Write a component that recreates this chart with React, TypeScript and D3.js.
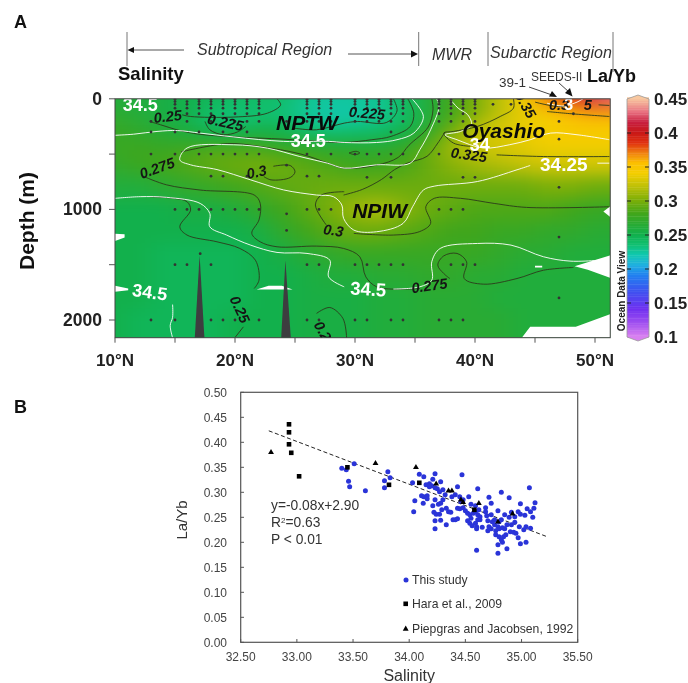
import React from "react";
import * as d3 from "d3";

// ---------- Panel A data ----------
const fieldLats = [10,12,14,16,18,20,22,24,26,28,30,32,34,36,38,40,42,44,46,48,50,52];
const fieldDepths = [0,100,200,300,400,500,600,800,1000,1200,1400,1600,1800,2000,2160];
const fieldValues = [
[.26,.26,.255,.25,.245,.24,.24,.24,.228,.225,.225,.228,.24,.26,.28,.30,.32,.34,.37,.39,.42,.43],
[.265,.26,.255,.25,.24,.235,.235,.232,.225,.222,.222,.225,.24,.26,.28,.30,.32,.335,.35,.36,.37,.37],
[.27,.265,.255,.25,.235,.232,.24,.24,.228,.222,.225,.23,.24,.26,.285,.31,.325,.335,.34,.35,.35,.35],
[.275,.27,.265,.26,.25,.25,.255,.25,.24,.235,.238,.24,.25,.27,.30,.325,.33,.335,.34,.345,.345,.345],
[.275,.275,.27,.27,.27,.27,.27,.265,.262,.258,.258,.258,.265,.285,.31,.325,.33,.335,.34,.34,.34,.34],
[.275,.28,.28,.285,.29,.29,.29,.285,.28,.275,.272,.272,.278,.295,.31,.32,.325,.33,.335,.335,.335,.335],
[.27,.275,.28,.285,.29,.295,.298,.295,.29,.285,.28,.28,.283,.293,.303,.31,.315,.32,.325,.325,.325,.325],
[.26,.26,.265,.27,.275,.28,.285,.29,.293,.295,.295,.295,.295,.295,.295,.295,.295,.295,.30,.30,.295,.295],
[.25,.25,.25,.255,.255,.26,.27,.28,.29,.30,.31,.315,.305,.295,.29,.285,.285,.285,.285,.28,.275,.275],
[.25,.25,.25,.25,.25,.25,.255,.27,.28,.29,.295,.295,.29,.285,.28,.28,.275,.275,.27,.27,.265,.265],
[.25,.25,.245,.245,.245,.245,.25,.255,.265,.27,.275,.275,.275,.275,.275,.275,.27,.265,.265,.26,.26,.26],
[.25,.25,.245,.245,.245,.245,.25,.25,.255,.26,.26,.265,.265,.27,.27,.265,.265,.26,.26,.26,.26,.26],
[.25,.25,.245,.245,.245,.245,.25,.25,.255,.255,.255,.26,.26,.265,.265,.265,.26,.26,.26,.26,.26,.26],
[.25,.245,.245,.245,.245,.25,.25,.25,.255,.255,.255,.26,.26,.265,.265,.265,.265,.26,.26,.26,.26,.26],
[.25,.245,.245,.245,.245,.25,.25,.25,.255,.255,.255,.26,.26,.265,.265,.265,.265,.26,.26,.26,.26,.26],
];
const colorStops: [number,string][] = [
[.10,"#d880f0"],[.12,"#a050f0"],[.14,"#7030f0"],[.165,"#4050f0"],[.19,"#2080f0"],[.205,"#20b0e0"],[.22,"#10c8b0"],[.235,"#10c070"],[.25,"#12b04c"],[.28,"#40a61c"],[.30,"#7aae08"],[.32,"#bcc008"],[.34,"#f4ce00"],[.355,"#fcc000"],[.37,"#f08010"],[.385,"#e03010"],[.40,"#c81818"],[.415,"#c82040"],[.43,"#e87080"],[.45,"#f8c8a0"],
];

type P = [number, number];
const whiteContours: P[][] = [
[[10,330],[11.55,320],[13.5,295],[15.2,287],[17.1,310],[19.9,345],[24.05,385],[27.8,385],[29.1,395],[31.8,395],[33.5,370],[34.9,310],[35.7,160],[34.75,0]],
[[36.8,0],[37,70],[36.3,280],[35.4,460],[34.6,582],[31.8,597],[29.1,627],[27.7,582],[25.4,522],[22.7,446],[19.9,416],[16,445],[15.4,552],[16.3,597],[18.5,640],[21.3,733],[24.05,824],[26.8,870],[28.2,885],[28.9,960],[29.05,1081],[29.9,1187],[31.8,1202],[34,1127],[34.8,976],[35.7,825],[36.6,790],[40.2,748],[43.5,642],[44.6,603]],
[[50.2,582],[51.2,582]],
[[10,900],[12.1,885],[14.3,891],[17.1,946],[17.9,1036],[17.9,1157],[19.3,1232],[21.3,1323],[23.5,1389],[26,1398],[27.9,1459],[27.8,1610],[29.1,1700]],
[[33.2,1720],[35.4,1700],[36.4,1640],[36.4,1473],[37.1,1353],[40.2,1308],[43,1323],[45.7,1428],[48,1468],[51.2,1453]],
[[14.8,1860],[14.8,1975],[14.6,2050],[14.8,2160]],
[[37.9,0],[38.6,85],[39.4,145],[39.7,235],[38.8,295],[37.5,325],[38.5,370],[40.7,445],[42.9,415],[44.6,370],[46.3,310],[48.5,325],[51.2,370]],
[[46,40],[47.4,65],[48.5,30],[49,0]],
];
const darkContours: P[][] = [
[[12.9,205],[13.8,235],[15.4,287],[17,320],[20,345],[24,365],[27,385],[29.1,395],[31.4,370],[33,340],[34.6,250],[34.9,130],[34.4,0]],
[[15.6,145],[16.3,160],[19.9,165],[22.7,130],[23.8,55],[23.5,0]],
[[17.5,205],[17.9,280],[19.05,325],[20.2,300],[20.9,250]],
[[24.9,265],[26.8,280],[29.1,220],[30.2,205],[32.6,215],[33.5,110],[33.2,0]],
[[12.4,703],[14.3,778],[17.1,825],[21.6,870],[22.1,945],[22,1095],[21.4,1217],[22.1,1293],[23.5,1338],[26.8,1332],[29.05,1353],[30.4,1428],[30.9,1610],[31.8,1700],[33.2,1721],[35.4,1715]],
[[37.9,1625],[37.4,1580],[36.9,1504],[37.4,1420],[38.5,1398],[39.3,1474],[39.1,1625],[40.7,1676],[43.5,1625],[45.7,1550],[48.2,1525]],
[[29.1,840],[27.2,870],[26.7,960],[27.6,1140]],
[[29.9,1217],[33.2,1232],[35.4,1200],[36.3,1127],[35.9,976],[36.6,900],[38.8,900],[41.6,946],[44.3,982],[51.2,976]],
[[12.9,885],[14.9,900],[16,930],[16.3,1006],[15.4,1157],[16,1232],[18.5,1293],[20.4,1353],[21.7,1459],[22,1640],[21.6,1715]],
[[20.7,2062],[20,2158]],
[[26.8,1940],[27.9,1887],[29,1987],[29.3,2160]],
[[22.4,703],[23,733],[24.6,712],[25,660],[24.6,603],[23.2,610]],
[[15.5,480],[19.4,405],[22,430],[25.5,500],[27.7,580],[29,627],[31.8,600],[33.6,530],[34.5,420],[36.1,255],[36.5,100],[36.4,0]],
[[29.05,870],[30.6,820],[32.2,730],[33.3,640],[34.4,580],[36,520],[36.9,400],[37.5,300]],
[[29.5,490],[30.1,475],[30.4,490],[30,505],[29.5,490]],
[[41.8,507],[45.7,522],[51.2,522]],
[[43.2,0],[43.2,85],[42.1,160],[40.2,250],[38.2,295],[37.4,310],[38.2,400],[39.6,430]],
[[46,115],[48,135],[51.2,160]],
[[45,30],[46.5,65],[47.5,70]],
[[50.3,55],[51.2,60]],
];
const gaps: P[][] = [
[[43.9,2160],[44.6,2060],[48.4,2060],[51.3,1945],[51.3,2160]],
[[48.3,1515],[51.3,1415],[51.3,1620],[49.4,1545]],
[[50.7,1020],[51.3,970],[51.3,1070]],
[[10,1220],[10.8,1225],[10.8,1255],[10,1285]],
[[10,1690],[11.1,1715],[11.1,1730],[10,1745]],
[[21.8,1725],[22.8,1690],[23.9,1690],[24.8,1725]],
[[45,1510],[45.6,1510],[45.6,1525],[45,1525]],
];
const seamountA: P[] = [[16.65,2160],[17.05,1413],[17.45,2160]];
const seamountB: P[] = [[23.85,2160],[24.2,1460],[24.65,2160]];

const stationRows: [number, number[]][] = [
[5,[15,17,18,19,20,21,22,26,27,28,30,31,32,33,34,37,38,39,40]],
[25,[15,16,17,18,19,20,21,22,26,27,28,30,31,32,33,34,37,38,39,40]],
[50,[15,16,17,18,19,20,21,22,26,27,28,30,31,32,33,34,37,38,39,40,41.5,43]],
[85,[15,16,17,18,19,20,21,22,26,27,28,30,31,32,33,34,37,38,39,40]],
[135,[16,17,18,19,20,21,22,26,27,28,33,34,37,38,39,40,48.2]],
[205,[13,16,18,20,21,22,24.3,26,27,28,30,31,32,33,34,37,38,39,40,47]],
[300,[13,15,17,19,21,33]],
[365,[47]],
[500,[13,15,17,18,19,20,21,22,26,28,30,31,32,33,34,37]],
[600,[24.3,47]],
[700,[18,19,21,26,27]],
[710,[31,33,39,40]],
[800,[47]],
[1000,[15,16,17,18,19,20,21,22,26,27,28,37,38,39]],
[1040,[24.3]],
[1190,[24.3]],
[1250,[47]],
[1400,[17.1]],
[1500,[15,16,18,26,27,30,31,32,33,34,38,39,40]],
[1800,[47]],
[2000,[13,15,18,19,20,22,26,27,30,31,33,34,37,38,39]],
];

const regionLabels: [string, number, number][] = [
["Subtropical Region", 197, 55],["MWR", 432, 60],["Subarctic Region", 490, 58],
];
const contourLabels: [string, number, number, number][] = [
["0.25",14.4,160,-6],["0.225",19.2,214,12],["0.225",31,130,5],["0.275",13.5,627,-20],["0.3",21.8,663,-12],
["0.3",28.2,1190,8],["0.25",20.4,1905,65],["0.2",27.3,2100,60],["0.325",39.5,507,8],["0.35",44.2,55,60],["0.3",47,60,0],["5",49.4,60,0],["0.275",36.2,1690,-8],
];
const salinityLabels: [string, number, number, number, number][] = [
["34.5",12.1,60,0,18],["34.5",26.1,385,0,18],["34",40.4,415,0,18],["34.25",47.4,591,0,19],["34.5",31.1,1720,3,18.5],["34.5",12.9,1750,8,18],["3",47.8,50,0,16],
];
const waterMasses: [string, number, number][] = [["NPTW",26,211],["Oyashio",42.4,286],["NPIW",32.05,1006]];

const latTicks = [10,15,20,25,30,35,40,45,50];
const latLabels = [10,20,30,40,50];
const depthTicks = [0,500,1000,1500,2000];
const depthLabels = [0,1000,2000];
const barTicks = [.1,.15,.2,.25,.3,.35,.4,.45];

// ---------- Panel B data ----------
const blueSal = [34.47,34.23,34.09,34.13,34.21,34.28,34.03,34.18,34.15,34.20,34.18,34.23,34.25,34.43,34.61,34.30,34.27,34.32,34.11,34.13,34.16,34.16,34.05,34.125,34.23,34.30,34.28,34.26,34.21,34.04,34.22,34.24,34.27,34.29,34.33,34.35,34.37,34.33,34.23,34.28,34.23,34.39,34.41,34.43,34.38,34.41,34.45,34.48,34.53,34.46,34.43,34.45,34.48,34.50,34.55,34.59,34.52,34.54,34.57,34.59,34.62,34.61,34.63,34.55,34.52,34.54,34.56,34.59,34.61,34.63,34.60,34.60,34.65,34.60,34.71,34.73,34.68,34.68,34.69,34.73,34.70,34.74,34.76,34.79,34.82,34.89,34.99,35.07,35.12,35.11,35.05,35.08,35.03,34.97,34.99,34.91,34.94,34.85,34.89,34.82,34.80,34.76,34.79,34.71,34.73,34.70,34.77,34.80,34.83,34.87,34.85,34.77,34.80,34.84,34.82,34.83,34.79,34.87,34.79,34.90,34.93,34.95,34.86,34.97,34.99,35.04,35.02,35.04,35.08,35.10,34.98,34.91,34.94,33.40,33.44,33.51,33.46,33.47,33.61,33.81,33.83,33.78,33.78];
const blueVal = [.335,.337,.336,.331,.326,.321,.319,.317,.315,.313,.311,.309,.307,.311,.307,.305,.301,.295,.293,.291,.293,.287,.283,.278,.285,.285,.278,.276,.273,.261,.26,.256,.256,.265,.268,.261,.26,.235,.243,.244,.227,.245,.245,.247,.291,.295,.291,.285,.291,.281,.268,.267,.269,.263,.276,.273,.258,.255,.258,.261,.265,.255,.251,.248,.243,.238,.233,.238,.245,.245,.231,.227,.23,.184,.29,.278,.269,.261,.253,.255,.243,.241,.245,.263,.3,.289,.277,.309,.279,.268,.267,.261,.254,.261,.256,.26,.251,.255,.25,.245,.241,.235,.231,.231,.227,.223,.223,.227,.229,.235,.227,.215,.211,.211,.205,.2,.195,.187,.178,.221,.22,.218,.215,.209,.197,.2,.225,.231,.228,.25,.231,.235,.24,.348,.345,.357,.322,.311,.303,.341,.329,.323,.309];
const squareSal = [32.93,32.93,32.93,32.95,33.02,33.45,33.82,34.09,34.58];
const squareVal = [.436,.42,.396,.379,.332,.35,.315,.319,.265];
const triSal = [32.77,33.70,34.06,34.24,34.35,34.38,34.46,34.48,34.62,34.92,34.79];
const triVal = [.38,.358,.35,.317,.303,.303,.285,.28,.278,.257,.241];
const trendSal = [32.75,35.23];
const trendVal = [.423,.211];
const salTicks = [32.5,33,33.5,34,34.5,35,35.5];
const ratioTicks = [0,.05,.1,.15,.2,.25,.3,.35,.4,.45,.5];

const SANS = "'Liberation Sans', Arial, sans-serif";

export default function App() {
  const x = d3.scaleLinear().domain([10, 50]).range([115, 595]);
  const y = d3.scaleLinear().domain([0, 2000]).range([98.8, 320]);
  const left = x(10), right = x(51.27), top = y(0), bottom = y(2160);
  const color = d3.scaleLinear<string>().domain(colorStops.map(d => d[0])).range(colorStops.map(d => d[1])).interpolate(d3.interpolateRgb);
  const barY = d3.scaleLinear().domain([.1, .45]).range([337, 99]);

  const edgeX = (i: number) => i === 0 ? x(fieldLats[0]) - 40 : i === fieldLats.length ? x(fieldLats[i-1]) + 40 : x((fieldLats[i-1] + fieldLats[i]) / 2);
  const edgeY = (j: number) => j === 0 ? y(0) - 40 : j === fieldDepths.length ? y(fieldDepths[j-1]) + 40 : y((fieldDepths[j-1] + fieldDepths[j]) / 2);

  const curve = d3.line<P>().x(d => x(d[0])).y(d => y(d[1])).curve(d3.curveCatmullRom.alpha(0.5));
  const poly = d3.line<P>().x(d => x(d[0])).y(d => y(d[1]));

  const sx = d3.scaleLinear().domain([32.5, 35.5]).range([240.7, 577.7]);
  const sy = d3.scaleLinear().domain([0, .5]).range([642.3, 392.3]);
  const triangle = d3.symbol().type(d3.symbolTriangle).size(15)() as string;

  const barSteps = d3.range(.1, .4501, .0025);

  return (
    <svg width={688} height={683} style={{ position: "absolute", left: 0, top: 0, fontFamily: SANS }}>
      <defs>
        <clipPath id="plot"><rect x={left} y={top} width={right - left} height={bottom - top} /></clipPath>
        <filter id="soft" x="-5%" y="-5%" width="110%" height="110%" colorInterpolationFilters="sRGB">
          <feGaussianBlur stdDeviation="11 8" />
        </filter>
        <filter id="fine" filterUnits="userSpaceOnUse" x="0" y="0" width="688" height="683" colorInterpolationFilters="sRGB">
          <feGaussianBlur stdDeviation="0.4" />
        </filter>
      </defs>
      <rect width={688} height={683} fill="#fff" />

      <g clipPath="url(#plot)">
        <g filter="url(#soft)">
          {fieldValues.map((row, j) => row.map((v, i) => (
            <rect key={`${i}-${j}`} x={edgeX(i)} y={edgeY(j)} width={edgeX(i + 1) - edgeX(i) + .5} height={edgeY(j + 1) - edgeY(j) + .5} fill={color(v)} />
          )))}
        </g>
      </g>

      <g filter="url(#fine)">
      <g clipPath="url(#plot)">
        {gaps.map((g, i) => <path key={i} d={poly(g)! + "Z"} fill="#fff" />)}
        {darkContours.map((c, i) => <path key={i} d={curve(c)!} fill="none" stroke="#2c3a1c" strokeWidth={0.9} />)}
        {whiteContours.map((c, i) => <path key={i} d={curve(c)!} fill="none" stroke="#fff" strokeWidth={1} opacity={0.9} />)}
        {[seamountA, seamountB].map((s, i) => <path key={i} d={poly(s)! + "Z"} fill="#3d3d3f" />)}
        {stationRows.map(([d, lats]) => lats.map(la => <circle key={`${d}-${la}`} cx={x(la)} cy={y(d)} r={1.4} fill="#333" />))}
        {contourLabels.map(([t, la, d, r], i) => (
          <text key={i} transform={`translate(${x(la)},${y(d)}) rotate(${r})`} textAnchor="middle" dominantBaseline="central" fontSize={14.5} fontWeight={700} fontStyle="italic" fill="#151515">{t}</text>
        ))}
        {salinityLabels.map(([t, la, d, r, s], i) => (
          <text key={i} transform={`translate(${x(la)},${y(d)}) rotate(${r})`} textAnchor="middle" dominantBaseline="central" fontSize={s} fontWeight={700} fill="#fff">{t}</text>
        ))}
        {waterMasses.map(([t, la, d]) => (
          <text key={t} x={x(la)} y={y(d)} textAnchor="middle" dominantBaseline="central" fontSize={21} fontWeight={700} fontStyle="italic" fill="#0a0a0a">{t}</text>
        ))}
      </g>
      <rect x={left} y={top} width={right - left} height={bottom - top} fill="none" stroke="#444" strokeWidth={1} />

      {latTicks.map(t => <line key={t} x1={x(t)} x2={x(t)} y1={bottom} y2={bottom + 5} stroke="#555" />)}
      {depthTicks.map(t => <line key={t} x1={left - 6} x2={left} y1={y(t)} y2={y(t)} stroke="#555" />)}
      {latLabels.map(t => <text key={t} x={x(t)} y={366} textAnchor="middle" fontSize={17} fontWeight={700} fill="#222">{t}°N</text>)}
      {depthLabels.map(t => <text key={t} x={102} y={y(t) + 6} textAnchor="end" fontSize={17.5} fontWeight={700} fill="#222">{t}</text>)}
      <text transform="translate(34,221) rotate(-90)" textAnchor="middle" fontSize={21} fontWeight={700} fill="#111">Depth (m)</text>

      {/* header */}
      <text x={14} y={28} fontSize={18} fontWeight={700} fill="#111">A</text>
      <text x={14} y={413} fontSize={18} fontWeight={700} fill="#111">B</text>
      <text x={118} y={80} fontSize={18.5} fontWeight={700} fill="#111">Salinity</text>
      <text x={587} y={82} fontSize={18} fontWeight={700} fill="#111">La/Yb</text>
      {regionLabels.map(([t, px, py]) => <text key={t} x={px} y={py} fontSize={16} fontStyle="italic" fill="#333">{t}</text>)}
      <text x={499} y={87} fontSize={13.5} fill="#333">39-1</text>
      <text x={531} y={81} fontSize={12} fill="#333">SEEDS-II</text>
      {[127, 418.7, 488, 613].map((px, i) => <line key={i} x1={px} x2={px} y1={32} y2={i === 3 ? 72 : 66} stroke="#777" strokeWidth={1} />)}
      <line x1={184} x2={132} y1={50} y2={50} stroke="#555" />
      <path d="M127.5,50 L134,47 L134,53 Z" fill="#111" />
      <line x1={348} x2={412} y1={54} y2={54} stroke="#555" />
      <path d="M418,54 L411,50.5 L411,57.5 Z" fill="#111" />
      <line x1={529} x2={552} y1={87} y2={95} stroke="#444" />
      <path d="M557,97 L549,96.5 L552,91 Z" fill="#111" />
      <line x1={559} x2={569} y1={83} y2={92} stroke="#444" />
      <path d="M572.5,96.5 L565,93 L570,88 Z" fill="#111" />

      {/* colour bar */}
      {barSteps.map(v => <rect key={v} x={627} y={barY(v + .0025)} width={22} height={barY(v) - barY(v + .0025) + .4} fill={color(v)} />)}
      <path d="M627,99 L638,95 L649,99 Z" fill={color(.45)} />
      <path d="M627,337 L638,341 L649,337 Z" fill={color(.1)} />
      <path d="M627,337 V99 L638,95 L649,99 V337 L638,341 Z" fill="none" stroke="#999" strokeWidth={0.8} />
      {barTicks.map(t => (
        <g key={t}>
          {t > .1 && t < .45 && <>
            <line x1={627} x2={631} y1={barY(t)} y2={barY(t)} stroke="#222" />
            <line x1={645} x2={649} y1={barY(t)} y2={barY(t)} stroke="#222" />
          </>}
          <text x={654} y={barY(t) + 6} fontSize={17} fontWeight={700} fill="#222">{+t.toFixed(2)}</text>
        </g>
      ))}
      <text transform="translate(625,291) rotate(-90)" textAnchor="middle" fontSize={10} fontWeight={700} fill="#222">Ocean Data View</text>

      {/* Panel B */}
      <line x1={sx(trendSal[0])} x2={sx(trendSal[1])} y1={sy(trendVal[0])} y2={sy(trendVal[1])} stroke="#222" strokeWidth={1} strokeDasharray="4 2.5" />
      {blueSal.map((s, i) => <circle key={i} cx={sx(s)} cy={sy(blueVal[i])} r={2.5} fill="#2a34d8" />)}
      {squareSal.map((s, i) => <rect key={i} x={sx(s) - 2.3} y={sy(squareVal[i]) - 2.3} width={4.6} height={4.6} fill="#000" />)}
      {triSal.map((s, i) => <path key={i} d={triangle} transform={`translate(${sx(s)},${sy(triVal[i])})`} fill="#000" />)}
      <rect x={240.7} y={392.3} width={337} height={250} fill="none" stroke="#555" strokeWidth={1.2} />
      {ratioTicks.map(t => (
        <g key={t}>
          <line x1={240.7} x2={244} y1={sy(t)} y2={sy(t)} stroke="#555" />
          <text x={227} y={sy(t) + 4.5} textAnchor="end" fontSize={12} fill="#444">{t.toFixed(2)}</text>
        </g>
      ))}
      {salTicks.map(t => (
        <g key={t}>
          <line x1={sx(t)} x2={sx(t)} y1={642.3} y2={639} stroke="#555" />
          <text x={sx(t)} y={661} textAnchor="middle" fontSize={12} fill="#444">{t.toFixed(2)}</text>
        </g>
      ))}
      <text x={sx(34)} y={681} textAnchor="middle" fontSize={16} fill="#333">Salinity</text>
      <text transform="translate(187,520) rotate(-90)" textAnchor="middle" fontSize={15} fill="#333">La/Yb</text>
      <text x={271} y={510} fontSize={13.8} fill="#333">y=-0.08x+2.90</text>
      <text x={271} y={527} fontSize={13.8} fill="#333">R<tspan dy={-4} fontSize={8}>2</tspan><tspan dy={4}>=0.63</tspan></text>
      <text x={271} y={544} fontSize={13.8} fill="#333">P &lt; 0.01</text>
      <circle cx={406} cy={580} r={2.5} fill="#2a34d8" />
      <rect x={403.4} y={601.5} width={4.6} height={4.6} fill="#000" />
      <path d={triangle} transform="translate(405.7,629)" fill="#000" />
      <text x={412} y={584} fontSize={12.2} fill="#333">This study</text>
      <text x={412} y={608} fontSize={12.2} fill="#333">Hara et al., 2009</text>
      <text x={412} y={633} fontSize={12.2} fill="#333">Piepgras and Jacobsen, 1992</text>
      </g>
    </svg>
  );
}
